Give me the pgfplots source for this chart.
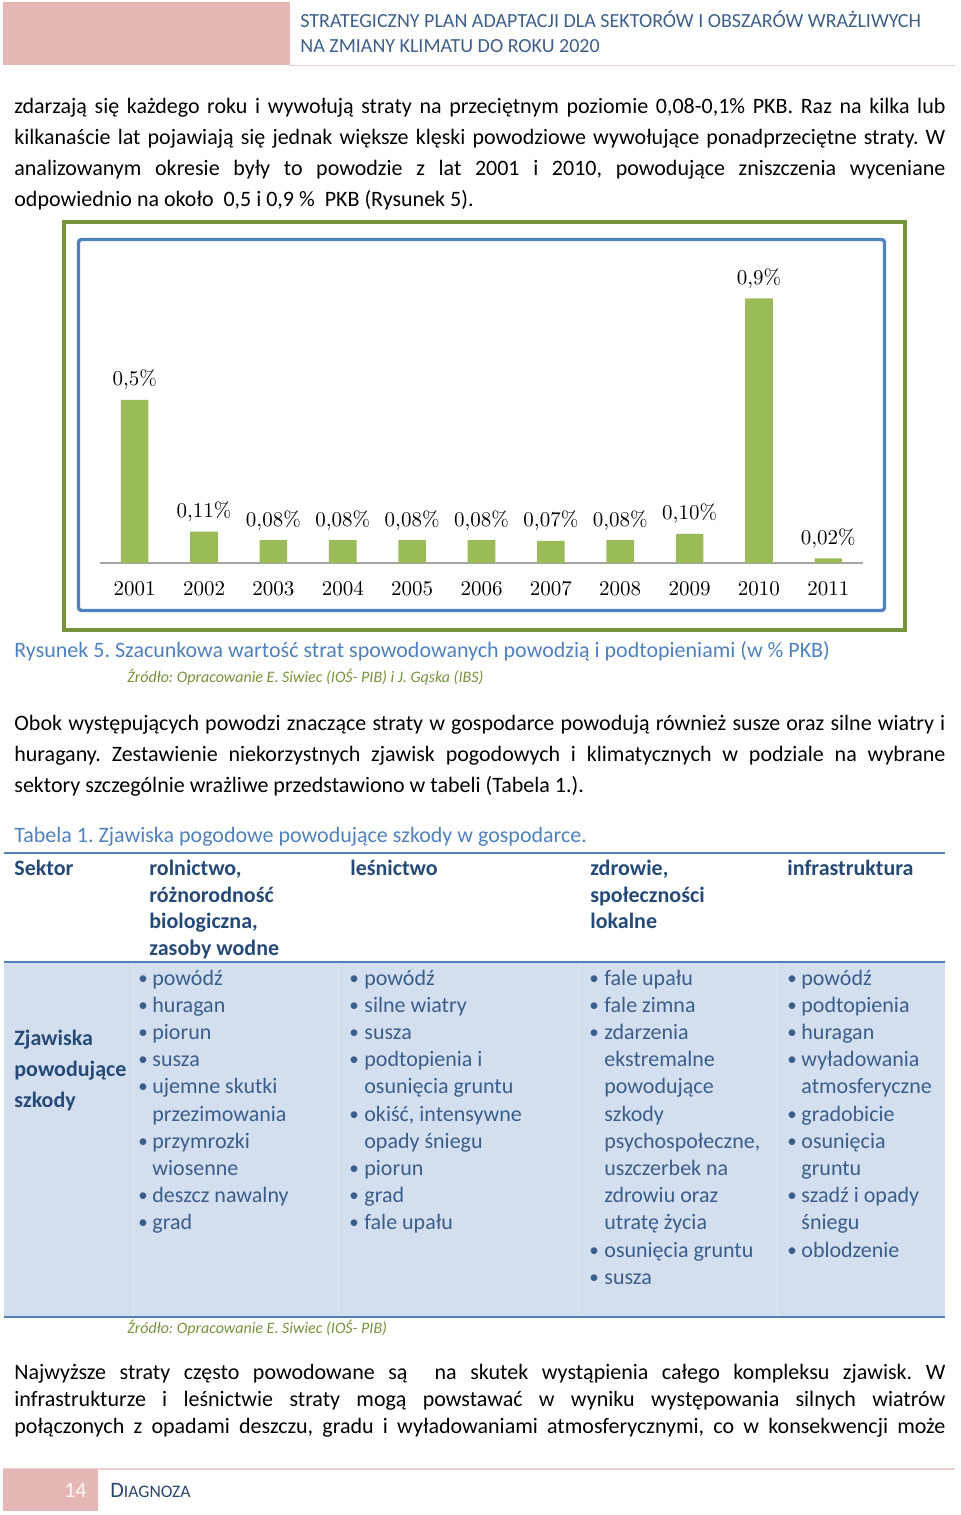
\documentclass[border=0pt]{standalone}
\usepackage{fontspec}
\usepackage{pgfplots}
\pgfplotsset{compat=1.18}
\newfontfamily\cf{Carlito}
\frenchspacing
\definecolor{pinkblk}{HTML}{E5B8B7}
\definecolor{pinkline}{HTML}{EBCFCE}
\definecolor{hdrtext}{HTML}{3E5F8A}
\definecolor{capblue}{HTML}{4F81BD}
\definecolor{olive}{HTML}{76923C}
\definecolor{framegreen}{HTML}{77933C}
\definecolor{frameblue}{HTML}{4F81BD}
\definecolor{bargreen}{HTML}{9BBB59}
\definecolor{tabfill}{HTML}{D3DFEE}
\definecolor{tabhead}{HTML}{264A78}
\definecolor{tabbody}{HTML}{3A5E8C}
\definecolor{diag}{HTML}{2A4670}
\newcommand{\bodyfont}{\cf\fontsize{11}{12}\selectfont\frenchspacing}
\newcommand{\jl}[2]{\node[anchor=base west,inner sep=0pt,font=\bodyfont] at (14,#1) {\hbox to 465.5pt{#2}};}
\newcommand{\nl}[2]{\node[anchor=base west,inner sep=0pt,font=\bodyfont] at (14,#1) {#2};}
\newcommand{\ti}[3]{\node[anchor=base west,inner sep=0pt,font=\bodyfont,text=tabbody] at (#1,{985+27.2*#2}) {#3};}
\newcommand{\tb}[2]{\node[anchor=base west,inner sep=0pt,font=\cf\fontsize{9.5}{10}\selectfont,text=tabbody] at (#1,{984+27.2*#2}) {\textbullet};}
\newcommand{\thd}[3]{\node[anchor=base west,inner sep=0pt,font=\bodyfont\bfseries,text=tabhead] at (#1,#2) {#3};}
\begin{document}
\begin{tikzpicture}
\path[use as bounding box] (0pt,0pt) rectangle (480pt,-757.5pt);
\begin{scope}[x=0.5pt,y=-0.5pt]
% header
\fill[pinkblk] (3,2) rectangle (290,65);
\draw[pinkline,line width=0.8pt] (290,65.5) -- (955,65.5);
\node[anchor=base west,inner sep=0pt,font=\cf\fontsize{10}{11}\selectfont,text=hdrtext] at (300,27) {STRATEGICZNY PLAN ADAPTACJI DLA SEKTORÓW I OBSZARÓW WRAŻLIWYCH};
\node[anchor=base west,inner sep=0pt,font=\cf\fontsize{10}{11}\selectfont,text=hdrtext] at (300,52) {NA ZMIANY KLIMATU DO ROKU 2020};
% paragraph 1
\jl{113}{zdarzają się każdego roku i wywołują straty na przeciętnym poziomie 0,08-0,1\% PKB. Raz na kilka lub}
\jl{144}{kilkanaście lat pojawiają się jednak większe klęski powodziowe wywołujące ponadprzeciętne straty. W}
\jl{175}{analizowanym okresie były to powodzie z lat 2001 i 2010, powodujące zniszczenia wyceniane}
\nl{206}{odpowiednio na około \ 0,5 i 0,9 \% \ PKB (Rysunek 5).}
% frames
\draw[framegreen,line width=2pt] (64,222) rectangle (905,630);
\draw[frameblue,line width=1.7pt,rounded corners=1.5pt] (78.5,239.5) rectangle (884.5,610.5);
% caption
\node[anchor=base west,inner sep=0pt,font=\bodyfont,text=capblue] at (14,657) {Rysunek 5. Szacunkowa wartość strat spowodowanych powodzią i podtopieniami (w \% PKB)};
\node[anchor=base west,inner sep=0pt,font=\cf\itshape\fontsize{8}{9}\selectfont,text=olive] at (127,682) {Źródło: Opracowanie E. Siwiec (IOŚ- PIB) i J. Gąska (IBS)};
% paragraph 2
\jl{730}{Obok występujących powodzi znaczące straty w gospodarce powodują również susze oraz silne wiatry i}
\jl{761}{huragany. Zestawienie niekorzystnych zjawisk pogodowych i klimatycznych w podziale na wybrane}
\nl{792}{sektory szczególnie wrażliwe przedstawiono w tabeli (Tabela 1.).}
\node[anchor=base west,inner sep=0pt,font=\bodyfont,text=capblue] at (14,842) {Tabela 1. Zjawiska pogodowe powodujące szkody w gospodarce.};
% table
\fill[tabfill] (4,962) rectangle (945,1317);
\foreach \xx in {133,338,579,777} {\draw[white,opacity=0.18,line width=1pt] (\xx,963) -- (\xx,1316);}
\draw[frameblue,line width=1pt] (4,853) -- (945,853);
\draw[frameblue,line width=1pt] (4,962) -- (945,962);
\draw[frameblue,line width=1pt] (4,1317) -- (945,1317);
\thd{14}{875}{Sektor}
\thd{149}{875}{rolnictwo,}
\thd{149}{902}{różnorodność}
\thd{149}{928}{biologiczna,}
\thd{149}{955}{zasoby wodne}
\thd{350}{875}{leśnictwo}
\thd{590}{875}{zdrowie,}
\thd{590}{902}{społeczności}
\thd{590}{928}{lokalne}
\thd{787}{875}{infrastruktura}
\thd{14}{1045}{Zjawiska}
\thd{14}{1076}{powodujące}
\thd{14}{1107}{szkody}
% col1
\tb{138}{0}\ti{152}{0}{powódź}
\tb{138}{1}\ti{152}{1}{huragan}
\tb{138}{2}\ti{152}{2}{piorun}
\tb{138}{3}\ti{152}{3}{susza}
\tb{138}{4}\ti{152}{4}{ujemne skutki}
\ti{152}{5}{przezimowania}
\tb{138}{6}\ti{152}{6}{przymrozki}
\ti{152}{7}{wiosenne}
\tb{138}{8}\ti{152}{8}{deszcz nawalny}
\tb{138}{9}\ti{152}{9}{grad}
% col2
\tb{349}{0}\ti{364}{0}{powódź}
\tb{349}{1}\ti{364}{1}{silne wiatry}
\tb{349}{2}\ti{364}{2}{susza}
\tb{349}{3}\ti{364}{3}{podtopienia i}
\ti{364}{4}{osunięcia gruntu}
\tb{349}{5}\ti{364}{5}{okiść, intensywne}
\ti{364}{6}{opady śniegu}
\tb{349}{7}\ti{364}{7}{piorun}
\tb{349}{8}\ti{364}{8}{grad}
\tb{349}{9}\ti{364}{9}{fale upału}
% col3
\tb{589}{0}\ti{604}{0}{fale upału}
\tb{589}{1}\ti{604}{1}{fale zimna}
\tb{589}{2}\ti{604}{2}{zdarzenia}
\ti{604}{3}{ekstremalne}
\ti{604}{4}{powodujące}
\ti{604}{5}{szkody}
\ti{604}{6}{psychospołeczne,}
\ti{604}{7}{uszczerbek na}
\ti{604}{8}{zdrowiu oraz}
\ti{604}{9}{utratę życia}
\tb{589}{10}\ti{604}{10}{osunięcia gruntu}
\tb{589}{11}\ti{604}{11}{susza}
% col4
\tb{787}{0}\ti{801}{0}{powódź}
\tb{787}{1}\ti{801}{1}{podtopienia}
\tb{787}{2}\ti{801}{2}{huragan}
\tb{787}{3}\ti{801}{3}{wyładowania}
\ti{801}{4}{atmosferyczne}
\tb{787}{5}\ti{801}{5}{gradobicie}
\tb{787}{6}\ti{801}{6}{osunięcia}
\ti{801}{7}{gruntu}
\tb{787}{8}\ti{801}{8}{szadź i opady}
\ti{801}{9}{śniegu}
\tb{787}{10}\ti{801}{10}{oblodzenie}
\node[anchor=base west,inner sep=0pt,font=\cf\itshape\fontsize{8}{9}\selectfont,text=olive] at (127,1333) {Źródło: Opracowanie E. Siwiec (IOŚ- PIB)};
% paragraph 3
\jl{1379}{Najwyższe straty często powodowane są \ na skutek wystąpienia całego kompleksu zjawisk. W}
\jl{1406}{infrastrukturze i leśnictwie straty mogą powstawać w wyniku występowania silnych wiatrów}
\jl{1433}{połączonych z opadami deszczu, gradu i wyładowaniami atmosferycznymi, co w konsekwencji może}
% footer
\draw[pinkline,line width=0.8pt] (3,1469) -- (955,1469);
\fill[pinkblk] (3,1469) rectangle (98,1511);
\node[anchor=base east,inner sep=0pt,font=\cf\fontsize{11}{12}\selectfont,text=white!90!pinkblk] at (87,1497) {14};
\node[anchor=base west,inner sep=0pt,text=diag] at (110,1497) {{\cf\fontsize{11}{12}\selectfont D}{\cf\fontsize{8.8}{10}\selectfont IAGNOZA}};
\end{scope}
\begin{axis}[
  at={(50pt,-281.5pt)}, anchor=south west,
  scale only axis, width=381.5pt, height=147pt,
  xmin=-0.5, xmax=10.5, ymin=0, ymax=1,
  axis x line=bottom, axis y line=none,
  x axis line style={-, draw=gray!70, line width=0.7pt},
  xtick={0,...,10},
  xticklabels={2001,2002,2003,2004,2005,2006,2007,2008,2009,2010,2011},
  major tick length=0pt,
  xticklabel style={anchor=base, yshift=-16pt, font=\fontsize{10.5}{12}\selectfont},
  ytick=\empty,
  ybar, bar width=13.8pt,
  clip=false,
  nodes near coords,
  point meta=explicit symbolic,
  every node near coord/.append style={anchor=base, yshift=7pt, inner sep=0pt, font=\fontsize{10.5}{12}\selectfont, text=black},
]
\addplot[fill=bargreen, draw=none] coordinates {
  (0,0.555) [0,5\%]
  (1,0.107) [0,11\%]
  (2,0.078) [0,08\%]
  (3,0.078) [0,08\%]
  (4,0.078) [0,08\%]
  (5,0.078) [0,08\%]
  (6,0.075) [0,07\%]
  (7,0.078) [0,08\%]
  (8,0.099) [0,10\%]
  (9,0.900) [0,9\%]
  (10,0.016) [0,02\%]
};
\end{axis}
\end{tikzpicture}
\end{document}
